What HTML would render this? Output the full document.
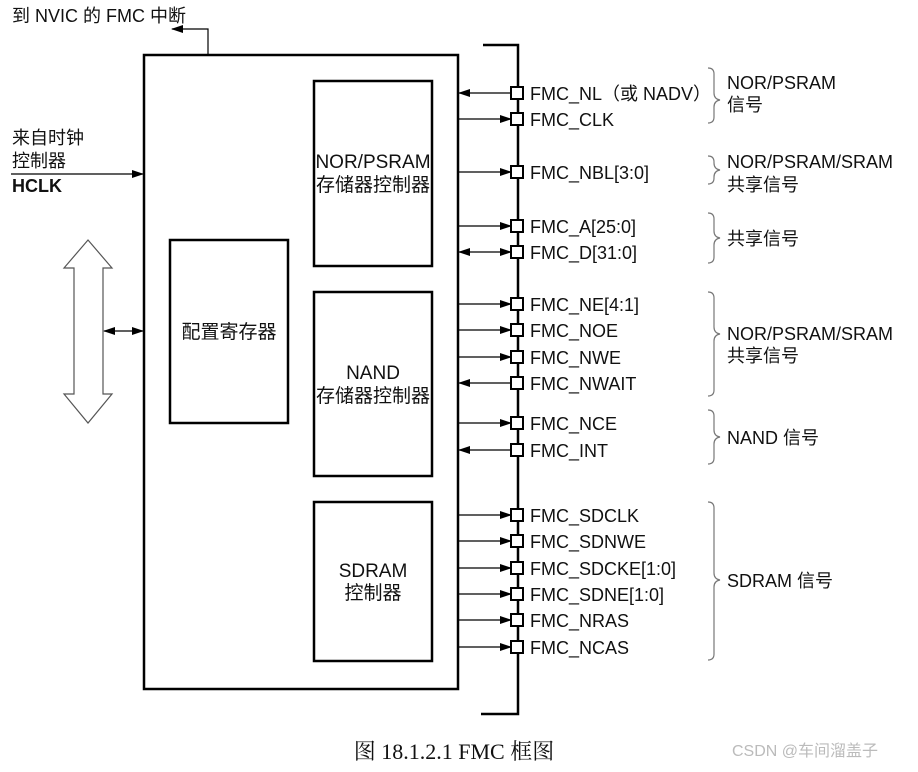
<!DOCTYPE html>
<html><head><meta charset="utf-8"><style>
body{margin:0;background:#fff;}
svg text{font-family:"Liberation Sans","Noto Sans CJK SC",sans-serif;font-size:18px;fill:#111;}
</style></head><body>
<svg width="918" height="767" viewBox="0 0 918 767" xmlns="http://www.w3.org/2000/svg">
<defs>
<marker id="ah" markerWidth="12" markerHeight="8" refX="11" refY="4" orient="auto" markerUnits="userSpaceOnUse"><path d="M0,0 L12,4 L0,8 Z" fill="#000"/></marker>
<marker id="as" markerWidth="12" markerHeight="8" refX="1" refY="4" orient="auto" markerUnits="userSpaceOnUse"><path d="M12,0 L0,4 L12,8 Z" fill="#000"/></marker>
</defs>
<text x="12" y="22">到 NVIC 的 FMC 中断</text>
<polyline points="208,55 208,29 172,29" fill="none" stroke="#000" stroke-width="1.2" marker-end="url(#ah)"/>
<text x="12" y="144">来自时钟</text>
<text x="12" y="167">控制器</text>
<text x="12" y="192" font-weight="bold">HCLK</text>
<line x1="11" y1="174" x2="143" y2="174" stroke="#000" stroke-width="1.2" marker-end="url(#ah)"/>
<rect x="144" y="55" width="314" height="634" fill="none" stroke="#000" stroke-width="2.5"/>
<rect x="314" y="81" width="118" height="185" fill="none" stroke="#000" stroke-width="2.5"/>
<text x="373" y="168" text-anchor="middle" style="font-size:19px">NOR/PSRAM</text>
<text x="373" y="191" text-anchor="middle" style="font-size:19px">存储器控制器</text>
<rect x="314" y="292" width="118" height="184" fill="none" stroke="#000" stroke-width="2.5"/>
<text x="373" y="379" text-anchor="middle" style="font-size:19px">NAND</text>
<text x="373" y="402" text-anchor="middle" style="font-size:19px">存储器控制器</text>
<rect x="314" y="502" width="118" height="159" fill="none" stroke="#000" stroke-width="2.5"/>
<text x="373" y="577" text-anchor="middle" style="font-size:19px">SDRAM</text>
<text x="373" y="599" text-anchor="middle" style="font-size:19px">控制器</text>
<rect x="170" y="240" width="118" height="183" fill="none" stroke="#000" stroke-width="2.5"/>
<text x="229" y="338" text-anchor="middle" style="font-size:19px">配置寄存器</text>
<polygon points="88,240 112,268 103,268 103,394 112,394 88,423 64,394 74,394 74,268 64,268" fill="#fff" stroke="#555" stroke-width="1.2"/>
<line x1="104" y1="331" x2="143" y2="331" stroke="#000" stroke-width="1.2" marker-start="url(#as)" marker-end="url(#ah)"/>
<polyline points="483,45 518,45 518,714 481,714" fill="none" stroke="#000" stroke-width="2.5"/>
<g stroke="#000" stroke-width="1.2" fill="none">
<line x1="459" y1="93" x2="511" y2="93" marker-start="url(#as)"/>
<line x1="459" y1="119" x2="511" y2="119" marker-end="url(#ah)"/>
<line x1="459" y1="172" x2="511" y2="172" marker-end="url(#ah)"/>
<line x1="459" y1="226" x2="511" y2="226" marker-end="url(#ah)"/>
<line x1="459" y1="252" x2="511" y2="252" marker-start="url(#as)" marker-end="url(#ah)"/>
<line x1="459" y1="304" x2="511" y2="304" marker-end="url(#ah)"/>
<line x1="459" y1="330" x2="511" y2="330" marker-end="url(#ah)"/>
<line x1="459" y1="357" x2="511" y2="357" marker-end="url(#ah)"/>
<line x1="459" y1="383" x2="511" y2="383" marker-start="url(#as)"/>
<line x1="459" y1="423" x2="511" y2="423" marker-end="url(#ah)"/>
<line x1="459" y1="450" x2="511" y2="450" marker-start="url(#as)"/>
<line x1="459" y1="515" x2="511" y2="515" marker-end="url(#ah)"/>
<line x1="459" y1="541" x2="511" y2="541" marker-end="url(#ah)"/>
<line x1="459" y1="568" x2="511" y2="568" marker-end="url(#ah)"/>
<line x1="459" y1="594" x2="511" y2="594" marker-end="url(#ah)"/>
<line x1="459" y1="620" x2="511" y2="620" marker-end="url(#ah)"/>
<line x1="459" y1="647" x2="511" y2="647" marker-end="url(#ah)"/>
</g>
<g fill="#fff" stroke="#000" stroke-width="2">
<rect x="511" y="87" width="12" height="12"/><rect x="511" y="113" width="12" height="12"/>
<rect x="511" y="166" width="12" height="12"/><rect x="511" y="220" width="12" height="12"/>
<rect x="511" y="246" width="12" height="12"/><rect x="511" y="298" width="12" height="12"/>
<rect x="511" y="324" width="12" height="12"/><rect x="511" y="351" width="12" height="12"/>
<rect x="511" y="377" width="12" height="12"/><rect x="511" y="417" width="12" height="12"/>
<rect x="511" y="444" width="12" height="12"/><rect x="511" y="509" width="12" height="12"/>
<rect x="511" y="535" width="12" height="12"/><rect x="511" y="562" width="12" height="12"/>
<rect x="511" y="588" width="12" height="12"/><rect x="511" y="614" width="12" height="12"/>
<rect x="511" y="641" width="12" height="12"/>
</g>
<g>
<text x="530" y="100">FMC_NL（或 NADV）</text>
<text x="530" y="126">FMC_CLK</text>
<text x="530" y="179">FMC_NBL[3:0]</text>
<text x="530" y="233">FMC_A[25:0]</text>
<text x="530" y="259">FMC_D[31:0]</text>
<text x="530" y="311">FMC_NE[4:1]</text>
<text x="530" y="337">FMC_NOE</text>
<text x="530" y="364">FMC_NWE</text>
<text x="530" y="390">FMC_NWAIT</text>
<text x="530" y="430">FMC_NCE</text>
<text x="530" y="457">FMC_INT</text>
<text x="530" y="522">FMC_SDCLK</text>
<text x="530" y="548">FMC_SDNWE</text>
<text x="530" y="575">FMC_SDCKE[1:0]</text>
<text x="530" y="601">FMC_SDNE[1:0]</text>
<text x="530" y="627">FMC_NRAS</text>
<text x="530" y="654">FMC_NCAS</text>
</g>
<g fill="none" stroke="#777" stroke-width="1.2">
<path d="M708,68 q6,0 6,6 v19 q0,6 6,7 q-6,1 -6,7 v10 q0,6 -6,6"/>
<path d="M708,156 q6,0 6,6 v1 q0,6 6,7 q-6,1 -6,7 v1 q0,6 -6,6"/>
<path d="M708,213 q6,0 6,6 v12 q0,6 6,7 q-6,1 -6,7 v12 q0,6 -6,6"/>
<path d="M708,292 q6,0 6,6 v29 q0,6 6,7 q-6,1 -6,7 v49 q0,6 -6,6"/>
<path d="M708,410 q6,0 6,6 v14 q0,6 6,7 q-6,1 -6,7 v14 q0,6 -6,6"/>
<path d="M708,502 q6,0 6,6 v65 q0,6 6,7 q-6,1 -6,7 v67 q0,6 -6,6"/>
</g>
<text x="727" y="89">NOR/PSRAM</text>
<text x="727" y="111">信号</text>
<text x="727" y="168">NOR/PSRAM/SRAM</text>
<text x="727" y="191">共享信号</text>
<text x="727" y="245">共享信号</text>
<text x="727" y="340">NOR/PSRAM/SRAM</text>
<text x="727" y="362">共享信号</text>
<text x="727" y="444">NAND 信号</text>
<text x="727" y="587">SDRAM 信号</text>
<text x="454" y="759" text-anchor="middle" style="font-family:'Liberation Serif','Noto Serif CJK SC',serif;font-size:22px">图 18.1.2.1 FMC 框图</text>
<text x="732" y="756" style="font-size:16px;fill:#bbb">CSDN @车间溜盖子</text>
</svg>
</body></html>
